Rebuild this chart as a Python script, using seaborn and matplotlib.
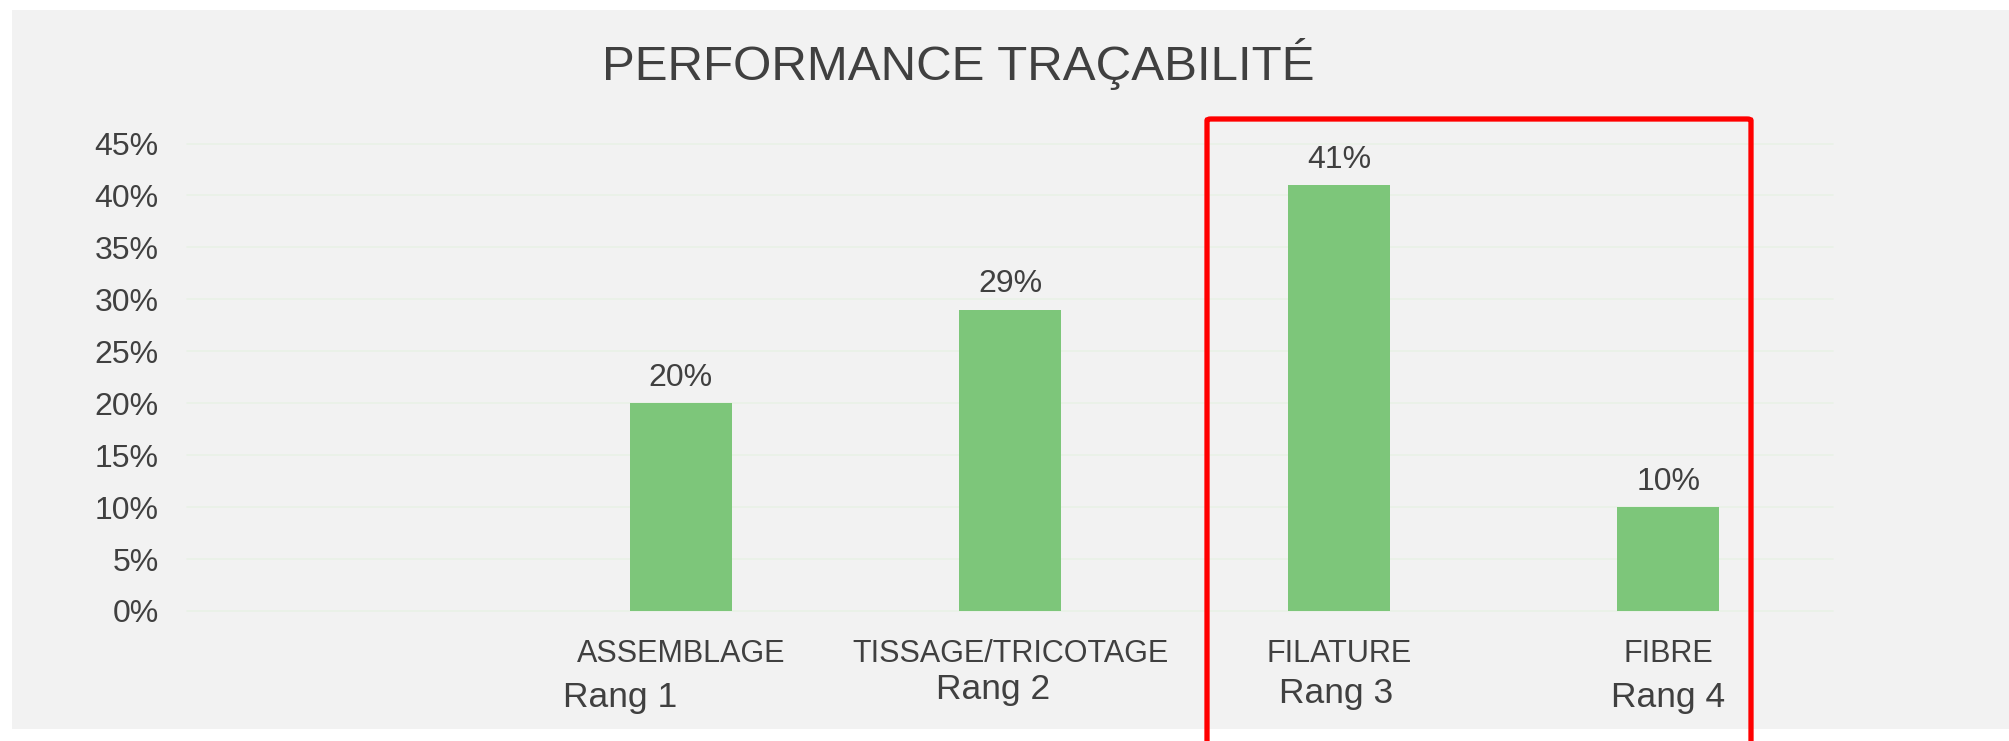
import matplotlib
matplotlib.use("Agg")
import matplotlib.pyplot as plt
from matplotlib.patches import Rectangle, FancyBboxPatch
import seaborn as sns
import pandas as pd

# ---- data ----
categories = ["ASSEMBLAGE", "TISSAGE/TRICOTAGE", "FILATURE", "FIBRE"]
values = [0.20, 0.29, 0.41, 0.10]
value_labels = ["20%", "29%", "41%", "10%"]
rank_labels = ["Rang 1", "Rang 2", "Rang 3", "Rang 4"]
yticks = [0.00, 0.05, 0.10, 0.15, 0.20, 0.25, 0.30, 0.35, 0.40, 0.45]
ytick_labels = ["0%", "5%", "10%", "15%", "20%", "25%", "30%", "35%", "40%", "45%"]
title = "PERFORMANCE TRAÇABILITÉ"

# ---- style ----
sns.set_theme(style="white")
plt.rcParams['font.family'] = ['Liberation Sans', 'DejaVu Sans']
TXT = "#404040"
BAR = "#7dc67a"
GRID = "#e9f1e7"
PANEL = "#f2f2f2"

W, H = 2009, 741
fig = plt.figure(figsize=(W / 100, H / 100), dpi=100)
fig.patch.set_facecolor("white")

# panel background
fig.patches.append(Rectangle((12 / W, 1 - 729 / H), 1 - 12 / W, (729 - 10) / H,
                             transform=fig.transFigure, facecolor=PANEL,
                             edgecolor="none", zorder=-5))

ax = fig.add_axes([187 / W, 130 / H, (1833 - 187) / W, (611 - 143.5) / H])
ax.set_facecolor("none")
ax.set_zorder(2)

df = pd.DataFrame({"cat": categories, "val": values})
sns.barplot(data=df, x="cat", y="val", color=BAR, saturation=1, width=0.31,
            linewidth=0, edgecolor="none", ax=ax, zorder=3)

ax.set_xlim(-1.5, 3.5)
ax.set_ylim(0, 0.45)
ax.set_yticks(yticks)
ax.set_yticklabels(ytick_labels)
ax.set_xlabel("")
ax.set_ylabel("")
for s in ax.spines.values():
    s.set_visible(False)
ax.grid(axis="y", color=GRID, linewidth=1.2, zorder=0)
ax.grid(axis="x", visible=False)
ax.set_axisbelow(True)
for gl in ax.get_ygridlines():
    gl.set_clip_on(False)
ax.tick_params(axis="y", labelsize=23, labelcolor=TXT, length=0, pad=20.5)
ax.tick_params(axis="x", labelsize=22, labelcolor=TXT, length=0, pad=20)

# value labels
ax.bar_label(ax.containers[0], labels=value_labels, padding=7.5, fontsize=23, color=TXT)

# rank labels (overlay text under the categories)
rank_dx = [-0.185, -0.05, -0.01, 0.0]
rank_y = [697, 690, 694, 697]
for i, lab in enumerate(rank_labels):
    x_disp = ax.transData.transform((i + rank_dx[i], 0))[0] / W
    fig.text(x_disp, 1 - rank_y[i] / H, lab, ha="center", va="center",
             fontsize=25.5, color=TXT, zorder=5)

# title
fig.text(958 / W, 1 - 64 / H, title, ha="center", va="center", fontsize=35.5, color=TXT)

# red highlight box
fig.patches.append(FancyBboxPatch((1207 / W, -0.05), (1751 - 1207) / W, 0.05 + 1 - 119 / H,
                                  boxstyle="round,pad=0,rounding_size=0.002",
                                  transform=fig.transFigure, facecolor="none",
                                  edgecolor="#ff0000", linewidth=3.8, zorder=10))

fig.savefig("out.png", dpi=100)
